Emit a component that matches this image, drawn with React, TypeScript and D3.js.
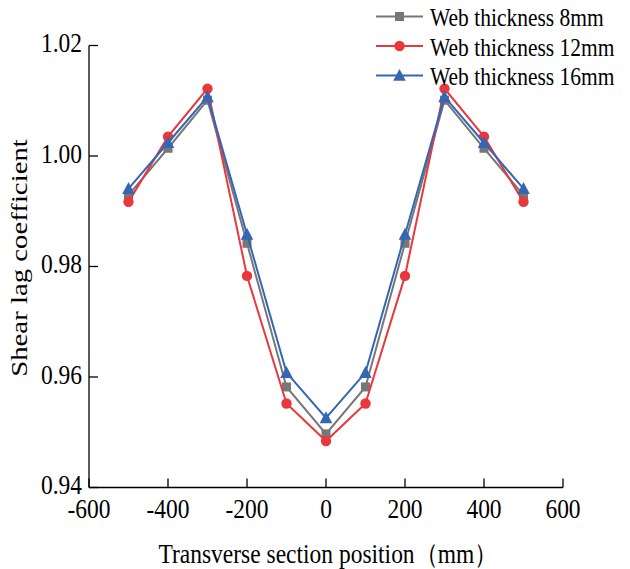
import React from "react";
import * as d3 from "d3";

const positions = [-500, -400, -300, -200, -100, 0, 100, 200, 300, 400, 500];
const web8 = [0.9929, 1.0014, 1.0101, 0.9842, 0.9582, 0.9497, 0.9582, 0.9842, 1.0101, 1.0014, 0.9929];
const web12 = [0.9917, 1.0035, 1.0122, 0.9783, 0.9552, 0.9484, 0.9552, 0.9783, 1.0122, 1.0035, 0.9917];
const web16 = [0.9941, 1.0024, 1.0107, 0.9858, 0.9608, 0.9526, 0.9608, 0.9858, 1.0107, 1.0024, 0.9941];
const seriesNames = ["Web thickness 8mm", "Web thickness 12mm", "Web thickness 16mm"];
const xTicks = [-600, -400, -200, 0, 200, 400, 600];
const yTicks = [0.94, 0.96, 0.98, 1.0, 1.02];

const W = 630, H = 569;
const colors = ["#777777", "#e8383d", "#3466b4"];
const shapes = ["square", "circle", "triangle"];
const FONT = "Liberation Serif";
const SY = 1.15;

function Marker({ shape, x, y, color }: { shape: string; x: number; y: number; color: string }) {
  if (shape === "square") return <rect x={x - 4.5} y={y - 4.5} width={9} height={9} fill={color} />;
  if (shape === "circle") return <circle cx={x} cy={y} r={5.2} fill={color} />;
  const s = 6.3;
  return <path d={`M${x},${y - s * 1.05}L${x + s},${y + s * 0.85}L${x - s},${y + s * 0.85}Z`} fill={color} />;
}

function T({ x, y, size, anchor, children }: { x: number; y: number; size: number; anchor?: string; children: React.ReactNode }) {
  return (
    <text
      transform={`translate(${x},${y}) scale(1,${SY})`}
      textAnchor={anchor || "start"}
      fontSize={size}
      style={{ fontFamily: FONT }}
      fill="#000"
    >
      {children}
    </text>
  );
}

export default function App() {
  const x = d3.scaleLinear().domain([-600, 600]).range([89, 563]);
  const y = d3.scaleLinear().domain([0.94, 1.02]).range([487.5, 45.5]);
  const data = [web8, web12, web16];
  const line = d3.line<number>().x((_, i) => x(positions[i])).y((d) => y(d));
  return (
    <svg width={W} height={H} style={{ position: "absolute", left: 0, top: 0, background: "#fff" }}>
      {/* axes */}
      <line x1={x(-600)} x2={x(-600)} y1={y(1.02)} y2={y(0.94)} stroke="#000" strokeWidth={1.3} />
      <line x1={x(-600)} x2={x(600)} y1={y(0.94)} y2={y(0.94)} stroke="#000" strokeWidth={1.3} />
      {yTicks.map((t) => (
        <g key={t}>
          <line x1={x(-600)} x2={x(-600) + 9} y1={y(t)} y2={y(t)} stroke="#000" strokeWidth={1.3} />
          <T x={x(-600) - 7} y={y(t) + 6.5} size={23.5} anchor="end">{t.toFixed(2)}</T>
        </g>
      ))}
      {xTicks.map((t) => (
        <g key={t}>
          <line x1={x(t)} x2={x(t)} y1={y(0.94)} y2={y(0.94) - 9} stroke="#000" strokeWidth={1.3} />
          <T x={x(t)} y={517.5} size={23.5} anchor="middle">{t}</T>
        </g>
      ))}
      <text
        transform={`translate(27,258) rotate(-90) scale(1.28,1)`}
        textAnchor="middle"
        fontSize={22.5}
        style={{ fontFamily: FONT }}
      >
        Shear lag coefficient
      </text>
      <T x={328} y={563} size={23.5} anchor="middle">Transverse section position（mm）</T>
      {/* series */}
      {data.map((s, k) => (
        <g key={k}>
          <path d={line(s) || ""} fill="none" stroke={colors[k]} strokeWidth={2} />
          {s.map((v, i) => (
            <Marker key={i} shape={shapes[k]} x={x(positions[i])} y={y(v)} color={colors[k]} />
          ))}
        </g>
      ))}
      {/* legend */}
      {seriesNames.map((n, k) => {
        const ly = 16.5 + k * 29.5;
        return (
          <g key={n}>
            <line x1={376} x2={423} y1={ly} y2={ly} stroke={colors[k]} strokeWidth={2} />
            <Marker shape={shapes[k]} x={399.5} y={ly} color={colors[k]} />
            <T x={430} y={ly + 9.8} size={21.5}>{n}</T>
          </g>
        );
      })}
    </svg>
  );
}
